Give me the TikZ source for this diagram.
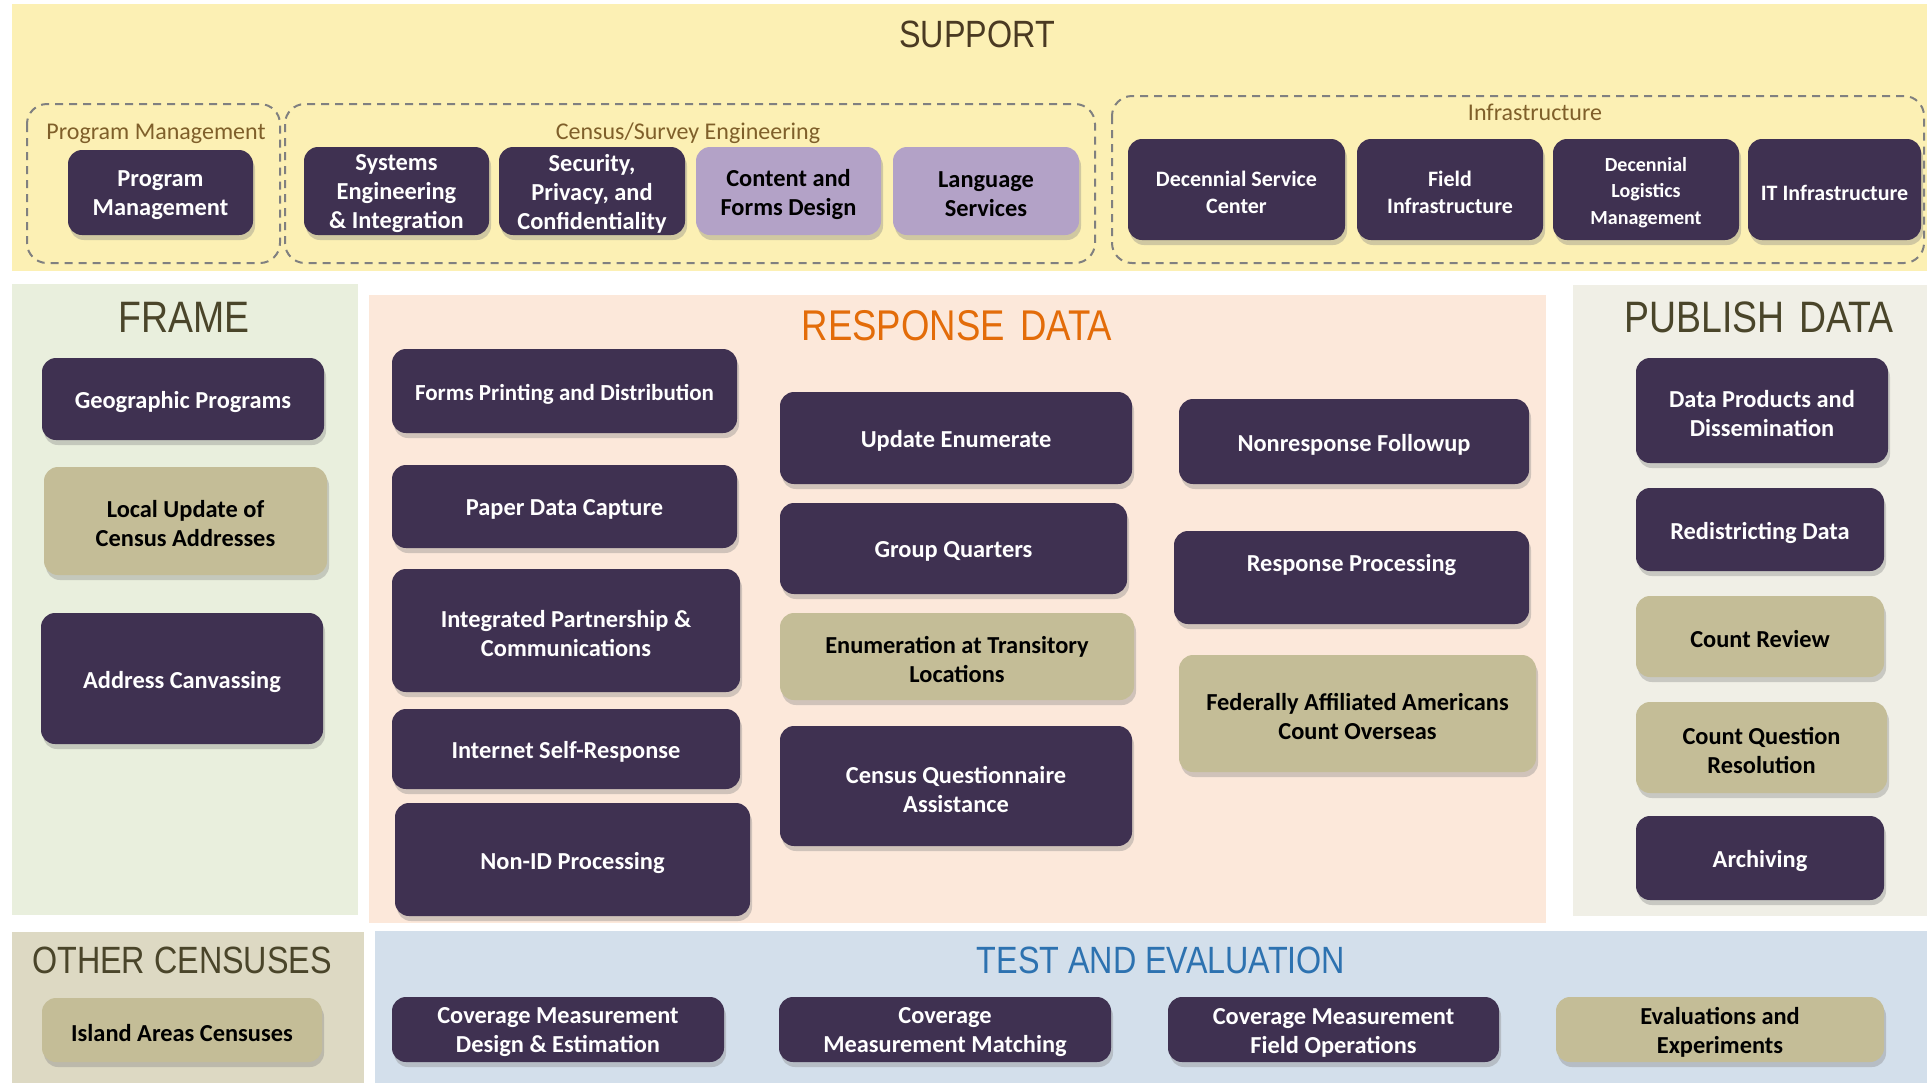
\documentclass[tikz,border=0pt]{standalone}
\usepackage{fontspec}
\setmainfont{Carlito}
\newfontfamily\headfont{Liberation Sans}[FakeStretch=0.85]
\usetikzlibrary{shadows, positioning}

\definecolor{supportbg}{HTML}{FCF0B4}
\definecolor{framebg}{HTML}{E9EFDD}
\definecolor{responsebg}{HTML}{FCE8DA}
\definecolor{publishbg}{HTML}{F0EFE6}
\definecolor{otherbg}{HTML}{DDD9C3}
\definecolor{testbg}{HTML}{D3DFEB}
\definecolor{boxdark}{HTML}{3F3151}
\definecolor{boxtan}{HTML}{C4BD97}
\definecolor{boxlav}{HTML}{B3A2C7}
\definecolor{grpgray}{HTML}{808080}
\definecolor{grpbrown}{HTML}{7F5F2A}
\definecolor{headolive}{HTML}{4A452A}
\definecolor{headbrown}{HTML}{4A3A22}
\definecolor{headorange}{HTML}{E36C09}
\definecolor{headblue}{HTML}{2D72B0}

\tikzset{
  card/.style={rounded corners=7pt, inner sep=0pt,
    drop shadow={opacity=.35, shadow xshift=1pt, shadow yshift=-2.5pt}},
  cardtext/.style={inner sep=0pt, align=center, yshift=-1.5pt,
    font=\bfseries\fontsize{12.2}{14.5}\selectfont},
  dbox/.style={card, fill=boxdark},
  tbox/.style={card, fill=boxtan},
  lbox/.style={card, fill=boxlav},
  dbox text/.style={cardtext, text=white},
  tbox text/.style={cardtext, text=black},
  lbox text/.style={cardtext, text=black},
  small/.style={font=\bfseries\fontsize{11}{13.2}\selectfont},
  grp/.style={draw=grpgray, dash pattern=on 4pt off 3pt, line width=1pt, rounded corners=10pt},
  grplabel/.style={text=grpbrown, font=\fontsize{12}{14}\selectfont, anchor=base},
  head/.style={font=\headfont\fontsize{19}{22}\selectfont, text=headolive},
  bighead/.style={head, font=\headfont\fontsize{22}{26}\selectfont},
}

% box from corner (x1,y1) to (x2,y2), in pixels of the picture
\newcommand\cardbox[8][]{%
  \pgfmathsetmacro\cbx{(#4+#6)/2}\pgfmathsetmacro\cby{(#5+#7)/2}%
  \pgfmathsetmacro\cbw{(#6-#4)/2}\pgfmathsetmacro\cbh{(#7-#5)/2}%
  \node[#2, minimum width=\cbw pt, minimum height=\cbh pt] (#3) at (\cbx,\cby) {};
  \node[#2 text, #1] (#3-t) at (#3.center) {#8};}

\begin{document}
\begin{tikzpicture}[x=0.5pt, y=-0.5pt]
  \fill[white] (0,0) rectangle (1927,1083);
  \useasboundingbox (0,0) rectangle (1927,1083);

  % panels
  \fill[supportbg] (12,4) rectangle (1927,271);
  \fill[framebg] (12,284) rectangle (358,915);
  \fill[responsebg] (369,295) rectangle (1546,923);
  \fill[publishbg] (1573,285) rectangle (1927,916);
  \fill[otherbg] (12,932) rectangle (364,1083);
  \fill[testbg] (375,931) rectangle (1927,1083);

  \node[head, text=headbrown] (support) at (977,34) {SUPPORT};
  \node[bighead] (frame) at (184,317) {FRAME};
  \node[head, text=headorange, font=\headfont\fontsize{21.5}{26}\selectfont] (response) at (957,326) {RESPONSE\hspace{0.12em} DATA};
  \node[bighead] (publish) at (1759,317) {PUBLISH\hspace{0.1em} DATA};
  \node[head] (other) at (182,960) {OTHER CENSUSES};
  \node[head, text=headblue] (test) at (1161,960) {TEST AND EVALUATION};

  % support groups
  \draw[grp] (27,104) rectangle (280,263);
  \draw[grp] (285,104) rectangle (1095,263);
  \draw[grp] (1112,96) rectangle (1924,263);
  \node[grplabel] (pmlabel) at (156,139) {Program Management};
  \node[grplabel] (cselabel) at (688,139) {Census/Survey Engineering};
  \node[grplabel] (infralabel) at (1535,120) {Infrastructure};

  \cardbox{dbox}{pm}{68}{150}{253}{235}{Program\\Management}
  \cardbox{dbox}{sei}{304}{147}{489}{235}{Systems\\Engineering\\\& Integration}
  \cardbox{dbox}{spc}{499}{147}{685}{235}{Security,\\Privacy, and\\Confidentiality}
  \cardbox{lbox}{cfd}{696}{147}{881}{235}{Content and\\Forms Design}
  \cardbox{lbox}{lang}{893}{147}{1079}{235}{Language\\Services}
  \cardbox[small]{dbox}{dsc}{1128}{139}{1345}{240}{Decennial Service\\Center}
  \cardbox[small]{dbox}{fi}{1357}{139}{1543}{240}{Field\\Infrastructure}
  \cardbox[font=\bfseries\fontsize{10}{13.2}\selectfont]{dbox}{dlm}{1553}{139}{1739}{240}{Decennial\\Logistics\\Management}
  \cardbox[small]{dbox}{it}{1748}{139}{1921}{240}{IT Infrastructure}

  % frame
  \cardbox{dbox}{geo}{42}{358}{324}{440}{Geographic Programs}
  \cardbox{tbox}{luca}{44}{467}{327}{575}{Local Update of\\Census Addresses}
  \cardbox{dbox}{adcan}{41}{613}{323}{744}{Address Canvassing}

  % response data
  \cardbox[font=\bfseries\fontsize{11.5}{14}\selectfont]{dbox}{fpd}{392}{349}{737}{433}{Forms Printing and Distribution}
  \cardbox{dbox}{pdc}{392}{465}{737}{548}{Paper Data Capture}
  \cardbox{dbox}{ipc}{392}{569}{740}{692}{Integrated Partnership \&\\Communications}
  \cardbox{dbox}{isr}{392}{709}{740}{789}{Internet Self-Response}
  \cardbox{dbox}{nid}{395}{803}{750}{916}{Non-ID Processing}

  \cardbox{dbox}{ue}{780}{392}{1132}{484}{Update Enumerate}
  \cardbox{dbox}{gq}{780}{503}{1127}{594}{Group Quarters}
  \cardbox{tbox}{etl}{780}{613}{1134}{700}{Enumeration at Transitory\\Locations}
  \cardbox{dbox}{cqa}{780}{726}{1132}{846}{Census Questionnaire\\Assistance}

  \cardbox{dbox}{nrfu}{1179}{399}{1529}{484}{Nonresponse Followup}
  \cardbox[yshift=8pt]{dbox}{rp}{1174}{531}{1529}{624}{Response Processing}
  \cardbox{tbox}{faa}{1179}{655}{1536}{772}{Federally Affiliated Americans\\Count Overseas}

  % publish data
  \cardbox{dbox}{dpd}{1636}{358}{1888}{463}{Data Products and\\Dissemination}
  \cardbox{dbox}{rdd}{1636}{488}{1884}{571}{Redistricting Data}
  \cardbox{tbox}{cr}{1636}{596}{1884}{677}{Count Review}
  \cardbox{tbox}{cqr}{1636}{702}{1887}{793}{Count Question\\Resolution}
  \cardbox{dbox}{arc}{1636}{816}{1884}{900}{Archiving}

  % other censuses, test and evaluation
  \cardbox{tbox}{iac}{42}{998}{322}{1062}{Island Areas Censuses}
  \cardbox{dbox}{cmde}{392}{997}{724}{1062}{Coverage Measurement\\Design \& Estimation}
  \cardbox{dbox}{cmm}{779}{997}{1111}{1062}{Coverage\\Measurement Matching}
  \cardbox{dbox}{cmfo}{1168}{997}{1499}{1062}{Coverage Measurement\\Field Operations}
  \cardbox{tbox}{eve}{1556}{997}{1884}{1062}{Evaluations and\\Experiments}
\end{tikzpicture}
\end{document}
